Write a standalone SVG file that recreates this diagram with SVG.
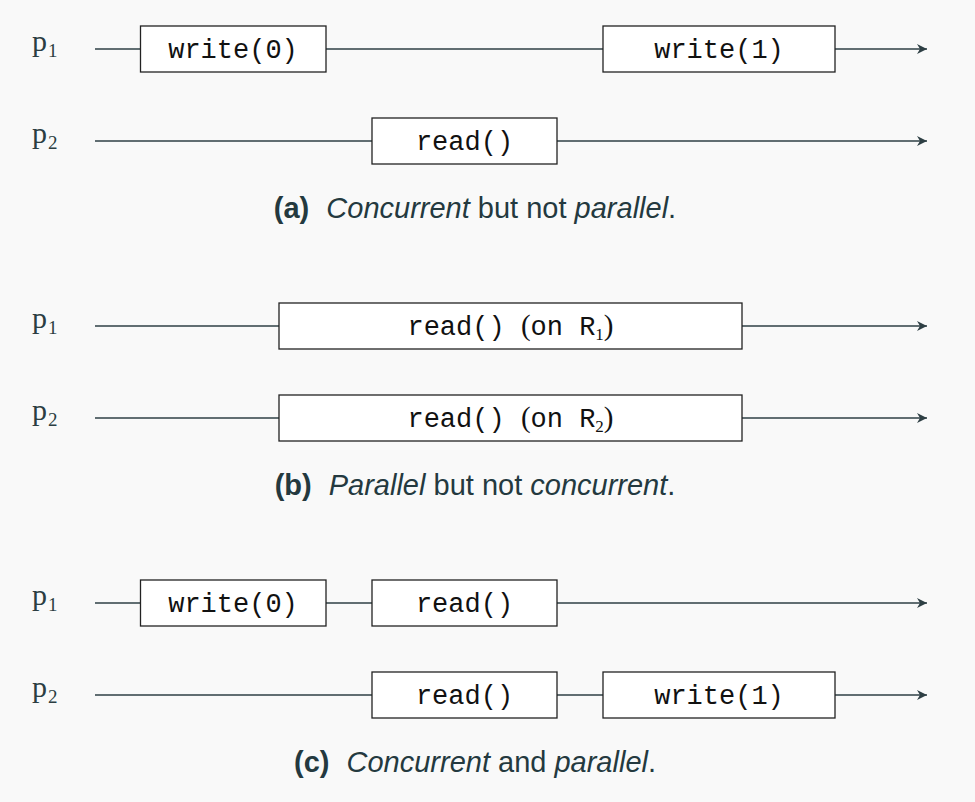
<svg xmlns="http://www.w3.org/2000/svg" width="975" height="802" viewBox="0 0 975 802">
<defs>
<marker id="arr" markerUnits="userSpaceOnUse" markerWidth="12" markerHeight="12" refX="11" refY="6" orient="auto">
<path d="M11,6 L1,1 L4,6 L1,11 Z" fill="#2e3f44"/>
</marker>
<style>
.bg{fill:#f9f9f9}
.tl{stroke:#2e3f44;stroke-width:1.4;fill:none;marker-end:url(#arr)}
.box{fill:#ffffff;stroke:#222222;stroke-width:1.3}
.op{font-family:"Liberation Mono",monospace;font-size:27px;fill:#111111;text-anchor:middle}
.rm{font-family:"Liberation Serif",serif}
.lbl{font-family:"Liberation Serif",serif;font-size:30px;fill:#2b3d42}
.sub{font-size:19px}
.cap{font-family:"Liberation Sans",sans-serif;font-size:29px;fill:#24393f;text-anchor:middle}
.b{font-weight:bold}
.i{font-style:italic}
</style>
</defs>
<rect class="bg" x="0" y="0" width="975" height="802"/>

<g id="connectors">
<line class="tl" x1="95" y1="49" x2="927" y2="49"/>
<line class="tl" x1="95" y1="141" x2="927" y2="141"/>
<line class="tl" x1="95" y1="326" x2="927" y2="326"/>
<line class="tl" x1="95" y1="418" x2="927" y2="418"/>
<line class="tl" x1="95" y1="603" x2="927" y2="603"/>
<line class="tl" x1="95" y1="695" x2="927" y2="695"/>
</g>

<g id="labels">
<text class="lbl" x="32" y="51">p<tspan class="sub" dx="1" dy="6">1</tspan></text>
<text class="lbl" x="32" y="143">p<tspan class="sub" dx="1" dy="6">2</tspan></text>
<text class="lbl" x="32" y="328">p<tspan class="sub" dx="1" dy="6">1</tspan></text>
<text class="lbl" x="32" y="420">p<tspan class="sub" dx="1" dy="6">2</tspan></text>
<text class="lbl" x="32" y="605">p<tspan class="sub" dx="1" dy="6">1</tspan></text>
<text class="lbl" x="32" y="697">p<tspan class="sub" dx="1" dy="6">2</tspan></text>
</g>

<g id="a-write0">
<rect class="box" x="140.5" y="26" width="185.5" height="46"/>
<text class="op" x="233" y="58">write(0)</text>
</g>
<g id="a-write1">
<rect class="box" x="603" y="26" width="232" height="46"/>
<text class="op" x="719" y="58">write(1)</text>
</g>
<g id="a-read">
<rect class="box" x="372" y="118" width="185" height="46"/>
<text class="op" x="464.5" y="150">read()</text>
</g>
<text class="cap" x="475" y="218"><tspan class="b">(a)</tspan><tspan class="i" dx="9"> Concurrent</tspan> but not <tspan class="i">parallel</tspan>.</text>

<g id="b-read1">
<rect class="box" x="279" y="303" width="463" height="46"/>
<text class="op" x="510.5" y="335" xml:space="preserve">read() <tspan class="rm" font-size="29">(</tspan>on R<tspan class="rm" font-size="17" dy="5">1</tspan><tspan class="rm" font-size="29" dy="-5">)</tspan></text>
</g>
<g id="b-read2">
<rect class="box" x="279" y="395" width="463" height="46"/>
<text class="op" x="510.5" y="427" xml:space="preserve">read() <tspan class="rm" font-size="29">(</tspan>on R<tspan class="rm" font-size="17" dy="5">2</tspan><tspan class="rm" font-size="29" dy="-5">)</tspan></text>
</g>
<text class="cap" x="475" y="495"><tspan class="b">(b)</tspan><tspan class="i" dx="9"> Parallel</tspan> but not <tspan class="i">concurrent</tspan>.</text>

<g id="c-write0">
<rect class="box" x="140.5" y="580" width="185.5" height="46"/>
<text class="op" x="233" y="612">write(0)</text>
</g>
<g id="c-read1">
<rect class="box" x="372" y="580" width="185" height="46"/>
<text class="op" x="464.5" y="612">read()</text>
</g>
<g id="c-read2">
<rect class="box" x="372" y="672" width="185" height="46"/>
<text class="op" x="464.5" y="704">read()</text>
</g>
<g id="c-write1">
<rect class="box" x="603" y="672" width="232" height="46"/>
<text class="op" x="719" y="704">write(1)</text>
</g>
<text class="cap" x="475" y="772"><tspan class="b">(c)</tspan><tspan class="i" dx="9"> Concurrent</tspan> and <tspan class="i">parallel</tspan>.</text>
</svg>
